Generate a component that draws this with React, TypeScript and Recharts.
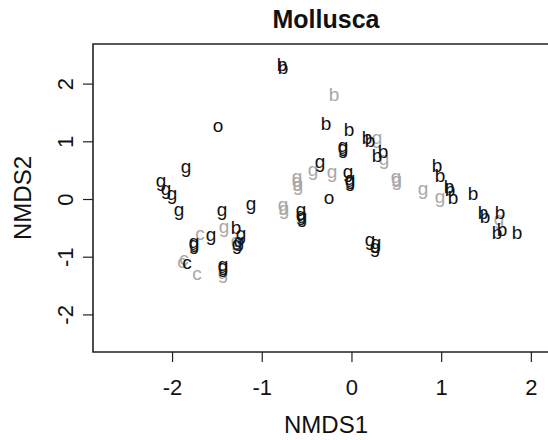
import { ScatterChart, Scatter, XAxis, YAxis, ReferenceArea } from 'recharts'

// NMDS site scores, grouped by label letter and colour
const blackB = [
  [-0.78, 2.348], [-0.769, 2.296], [-0.29, 1.326], [-0.033, 1.222], [0.167, 1.083],
  [0.201, 1.031], [0.279, 0.771], [0.346, 0.841], [0.948, 0.598], [0.981, 0.425],
  [1.081, 0.234], [1.093, 0.182], [1.349, 0.113], [1.126, 0.043], [1.46, -0.217],
  [1.483, -0.286], [1.65, -0.217], [1.617, -0.563], [1.672, -0.511], [1.839, -0.563],
  [-1.293, -0.477],
]
const grayB = [[-0.201, 1.828]]
const blackG = [
  [-0.1, 0.875], [-0.1, 0.841], [-0.357, 0.598], [-0.045, 0.425], [-0.022, 0.303],
  [-0.022, 0.269], [0.201, -0.754], [0.268, -0.806], [0.256, -0.875], [-0.569, -0.234],
  [-0.569, -0.321], [-0.557, -0.355], [-1.851, 0.511], [-2.129, 0.269], [-2.074, 0.13],
  [-2.007, 0.043], [-1.929, -0.234], [-1.449, -0.234], [-1.126, -0.13], [-1.572, -0.667],
  [-1.237, -0.65], [-1.282, -0.823], [-1.26, -0.771], [-1.761, -0.789], [-1.761, -0.823],
  [-1.438, -1.222], [-1.438, -1.187],
]
const grayG = [
  [0.279, 1.014], [0.357, 0.65], [-0.435, 0.459], [-0.223, 0.425], [0.49, 0.338],
  [0.5, 0.286], [0.792, 0.13], [0.981, -0.009], [1.639, -0.39], [-0.613, 0.338],
  [-0.613, 0.269], [-0.602, 0.199], [-0.769, -0.147], [-0.758, -0.217], [-1.427, -0.529],
  [-1.293, -0.771], [-1.438, -1.326],
]
const blackO = [[-1.494, 1.257], [-0.256, 0.009]]
const grayC = [[-1.695, -0.615], [-1.873, -1.049], [-1.895, -1.101], [-1.728, -1.308]]
const blackC = [[-1.839, -1.118]]

const xTicks = [-2, -1, 0, 1, 2]
const yTicks = [-2, -1, 0, 1, 2]
const xDomain = [-2.887, 2.308]
const yDomain = [-2.643, 2.695]

const FONT = '"Liberation Sans", Arial, Helvetica, sans-serif'
const BLACK = '#111111'
const GRAY = '#a8a8a8'
const LABEL_SIZE = 19

// baseline shift (in em) so the glyph ink is centred on the point
const LETTER_SHIFT: Record<string, number> = { b: 0.36, g: 0.16, o: 0.26, c: 0.26 }

const toPoints = (arr: number[][]) => arr.map(([x, y]) => ({ x, y }))

const letterShape = (letter: string, color: string) => (props: any) => {
  const { cx, cy } = props
  return (
    <text
      x={cx}
      y={cy + LETTER_SHIFT[letter] * LABEL_SIZE}
      textAnchor="middle"
      fontSize={LABEL_SIZE}
      fontFamily={FONT}
      fill={color}
    >
      {letter}
    </text>
  )
}

const XTick = (props: any) => {
  const { x, y, payload } = props
  return (
    <text x={x} y={y + 33} textAnchor="middle" fontSize={22} fontFamily={FONT} fill="#111">
      {payload.value}
    </text>
  )
}

const YTick = (props: any) => {
  const { x, y, payload } = props
  return (
    <text
      transform={`translate(${x - 10}, ${y}) rotate(-90)`}
      textAnchor="middle"
      fontSize={22}
      fontFamily={FONT}
      fill="#111"
    >
      {payload.value}
    </text>
  )
}

const series = [
  { data: grayB, letter: 'b', color: GRAY },
  { data: grayG, letter: 'g', color: GRAY },
  { data: grayC, letter: 'c', color: GRAY },
  { data: blackB, letter: 'b', color: BLACK },
  { data: blackG, letter: 'g', color: BLACK },
  { data: blackO, letter: 'o', color: BLACK },
  { data: blackC, letter: 'c', color: BLACK },
]

export default function App() {
  return (
    <div
      style={{
        position: 'absolute',
        left: 0,
        top: 0,
        width: 548,
        height: 440,
        overflow: 'hidden',
        background: '#fff',
      }}
    >
      <ScatterChart width={560} height={440} margin={{ top: 44, right: 1, bottom: 0, left: 0 }}>
        <XAxis
          type="number"
          dataKey="x"
          domain={xDomain}
          ticks={xTicks}
          allowDataOverflow
          height={88}
          axisLine={false}
          tickSize={10}
          tickMargin={0}
          tickLine={{ stroke: '#222', strokeWidth: 1.2 }}
          tick={<XTick />}
        />
        <YAxis
          type="number"
          dataKey="y"
          domain={yDomain}
          ticks={yTicks}
          allowDataOverflow
          width={93}
          axisLine={false}
          tickSize={10}
          tickMargin={0}
          tickLine={{ stroke: '#222', strokeWidth: 1.2 }}
          tick={<YTick />}
        />
        <ReferenceArea
          x1={xDomain[0]}
          x2={xDomain[1]}
          y1={yDomain[0]}
          y2={yDomain[1]}
          fill="none"
          stroke="#222"
          strokeWidth={1.6}
          ifOverflow="visible"
        />
        {series.map((s, i) => (
          <Scatter
            key={i}
            data={toPoints(s.data)}
            shape={letterShape(s.letter, s.color)}
            isAnimationActive={false}
          />
        ))}
        <text x={326} y={28} textAnchor="middle" fontSize={25} fontWeight="bold" fontFamily={FONT} fill="#111">
          Mollusca
        </text>
        <text x={326} y={433} textAnchor="middle" fontSize={24} fontFamily={FONT} fill="#111">
          NMDS1
        </text>
        <text
          transform="translate(31, 198) rotate(-90)"
          textAnchor="middle"
          fontSize={24}
          fontFamily={FONT}
          fill="#111"
        >
          NMDS2
        </text>
      </ScatterChart>
    </div>
  )
}
